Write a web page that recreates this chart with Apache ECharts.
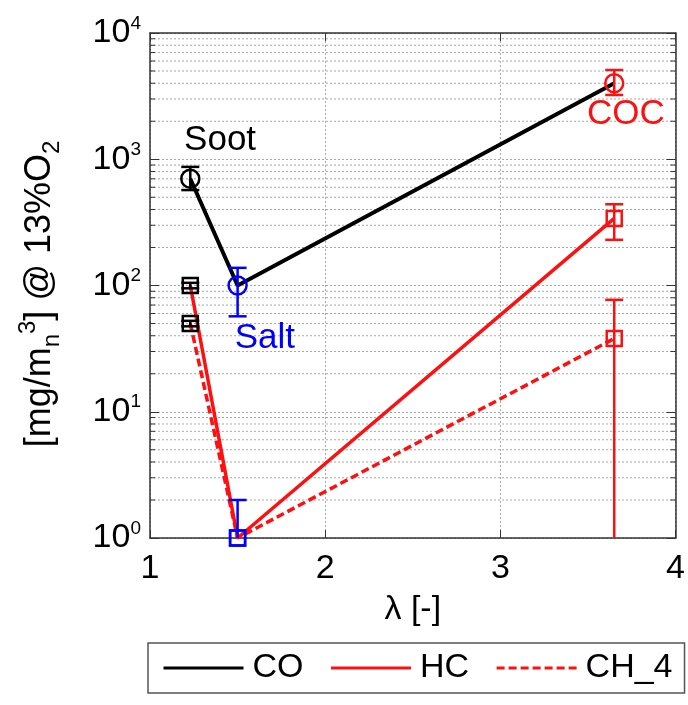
<!DOCTYPE html>
<html><head><meta charset="utf-8">
<script src="https://cdn.jsdelivr.net/npm/echarts@6/dist/echarts.min.js"></script>
<style>html,body{margin:0;padding:0;background:#fff}#c{width:688px;height:705px}</style>
</head><body><div id="c"></div>
<script>
// ---- data ----
const lambdaCO = [1.23, 1.5, 3.65];
const valuesCO = [700, 100, 4000];
const errLowCO = [570, 57, 3230];
const errHighCO = [870, 138, 5090];

const lambdaHC = [1.23, 1.5, 3.65];
const valuesHC = [100, 1, 340];
const errLowHC = [95, 0.5, 230];
const errHighHC = [105, 2, 440];

const lambdaCH4 = [1.23, 1.5, 3.65];
const valuesCH4 = [50, 1, 38];
const errLowCH4 = [47.5, null, 0.1];
const errHighCH4 = [52.5, null, 77];

const pointColors = ['#000000', '#0000ff', '#ff1010'];
const seriesNames = ['CO', 'HC', 'CH_4'];
const xTicks = [1, 2, 3, 4];
const yTickExponents = [0, 1, 2, 3, 4];
const minorMultipliers = [2, 3, 4, 5, 6, 7, 8, 9];
const annotationTexts = ['Soot', 'Salt', 'COC'];
const annotationX = [1.40, 1.656, 3.716];
const annotationY = [1420, 38.4, 2260];
const annotationColors = ['#000000', '#0000ff', '#ff1010'];

// ---- build ----
const FONT = 'Liberation Sans, Arial, Helvetica, sans-serif';
const RED = '#ff1010';
const GRIDC = '#a8a8a8';

function pairs(xs, ys) { return xs.map((x, i) => [x, ys[i]]); }
function errs(xs, lo, hi) {
  const out = [];
  xs.forEach((x, i) => { if (lo[i] != null) out.push([x, lo[i], hi[i], i]); });
  return out;
}
function markers(xs, ys) {
  return xs.map((x, i) => ({ value: [x, ys[i]], itemStyle: { borderColor: pointColors[i] } }));
}
const minorVals = [];
yTickExponents.slice(0, -1).forEach(e => minorMultipliers.forEach(m => minorVals.push([1, m * Math.pow(10, e)])));

const xMin = xTicks[0], xMax = xTicks[xTicks.length - 1];
const yMin = Math.pow(10, yTickExponents[0]), yMax = Math.pow(10, yTickExponents[yTickExponents.length - 1]);

function errRender(params, api) {
  const x = api.value(0), lo = api.value(1), hi = api.value(2), ci = api.value(3);
  const p1 = api.coord([x, hi]), p2 = api.coord([x, lo]);
  const hw = 9;
  const style = { stroke: pointColors[ci], lineWidth: 2.5 };
  return { type: 'group', children: [
    { type: 'line', shape: { x1: p1[0], y1: p1[1], x2: p2[0], y2: p2[1] }, style },
    { type: 'line', shape: { x1: p1[0] - hw, y1: p1[1], x2: p1[0] + hw, y2: p1[1] }, style },
    { type: 'line', shape: { x1: p2[0] - hw, y1: p2[1], x2: p2[0] + hw, y2: p2[1] }, style }
  ]};
}
function minorRender(params, api) {
  const v = api.value(1);
  const a = api.coord([xMin, v]), b = api.coord([xMax, v]);
  return { type: 'group', children: [
    { type: 'line', shape: { x1: a[0], y1: a[1], x2: b[0], y2: b[1] }, style: { stroke: GRIDC, lineWidth: 1, lineDash: [2, 2] } },
    { type: 'line', shape: { x1: a[0], y1: a[1], x2: a[0] + 5, y2: a[1] }, style: { stroke: '#333', lineWidth: 1 } },
    { type: 'line', shape: { x1: b[0] - 5, y1: b[1], x2: b[0], y2: b[1] }, style: { stroke: '#333', lineWidth: 1 } }
  ]};
}

const chart = echarts.init(document.getElementById('c'));
const axisLineStyle = { color: '#333', width: 1.5 };
chart.setOption({
  backgroundColor: '#fff',
  animation: false,
  grid: { left: 150, right: 8, top: 33, bottom: 167 },
  xAxis: [
    { type: 'value', min: xMin, max: xMax, interval: 1,
      axisLine: { show: true, lineStyle: axisLineStyle },
      axisTick: { inside: true, length: 8, lineStyle: { color: '#333' } },
      axisLabel: { fontSize: 34, fontFamily: FONT, color: '#000', margin: 14 },
      splitLine: { show: true, lineStyle: { color: GRIDC, type: [2, 2] } },
      name: 'λ [-]', nameLocation: 'middle', nameGap: 55,
      nameTextStyle: { fontSize: 34, fontFamily: FONT, color: '#000' } },
    { type: 'value', position: 'top', min: xMin, max: xMax, interval: 1,
      axisLine: { show: true, onZero: false, lineStyle: axisLineStyle },
      axisTick: { inside: true, length: 8, lineStyle: { color: '#333' } },
      axisLabel: { show: false }, splitLine: { show: false } }
  ],
  yAxis: [
    { type: 'log', logBase: 10, min: yMin, max: yMax,
      axisLine: { show: true, lineStyle: axisLineStyle },
      axisTick: { inside: true, length: 9, lineStyle: { color: '#333' } },
      splitLine: { show: true, lineStyle: { color: GRIDC, type: [2, 2] } },
      axisLabel: {
        margin: 9,
        formatter: v => '{b|10}{s|' + Math.round(Math.log10(v)) + '}',
        rich: {
          b: { fontSize: 34, fontFamily: FONT, color: '#000', lineHeight: 38 },
          s: { fontSize: 19, fontFamily: FONT, color: '#000', verticalAlign: 'top', lineHeight: 19 }
        }
      } },
    { type: 'log', logBase: 10, min: yMin, max: yMax, position: 'right',
      axisLine: { show: true, onZero: false, lineStyle: axisLineStyle },
      axisTick: { inside: true, length: 9, lineStyle: { color: '#333' } },
      axisLabel: { show: false }, splitLine: { show: false } }
  ],
  legend: {
    data: seriesNames, left: 148, top: 643, orient: 'horizontal',
    padding: [8, 12, 8, 14], itemGap: 26, itemWidth: 80, itemHeight: 14,
    borderColor: '#555', borderWidth: 1.5, backgroundColor: '#fff',
    itemStyle: { opacity: 0 },
    lineStyle: { width: 3 },
    textStyle: { fontSize: 34, fontFamily: FONT, color: '#000', padding: [0, 0, 0, 4] }
  },
  graphic: [{
    type: 'text', x: 40, y: 294, rotation: Math.PI / 2,
    style: {
      text: '{m|[mg/m}{sb|n}{sp|3}{m|] @ 13%O}{sb|2}',
      align: 'center', verticalAlign: 'middle',
      rich: {
        m: { fontSize: 36, fontFamily: FONT, fill: '#000', lineHeight: 48 },
        sb: { fontSize: 24, fontFamily: FONT, fill: '#000', verticalAlign: 'bottom', lineHeight: 24 },
        sp: { fontSize: 24, fontFamily: FONT, fill: '#000', verticalAlign: 'top', lineHeight: 24 }
      }
    }
  }],
  series: [
    { type: 'custom', name: 'minorGrid', data: minorVals, renderItem: minorRender, silent: true, z: 0 },
    { type: 'line', name: 'CO', data: pairs(lambdaCO, valuesCO), symbol: 'none', z: 3,
      lineStyle: { color: '#000', width: 4 }, itemStyle: { color: '#000' } },
    { type: 'line', name: 'HC', data: pairs(lambdaHC, valuesHC), symbol: 'none', z: 3,
      lineStyle: { color: RED, width: 3.5 }, itemStyle: { color: RED } },
    { type: 'line', name: 'CH_4', data: pairs(lambdaCH4, valuesCH4), symbol: 'none', z: 3,
      lineStyle: { color: RED, width: 3.5, type: [8, 4] }, itemStyle: { color: RED } },
    { type: 'custom', name: 'errCO', data: errs(lambdaCO, errLowCO, errHighCO), renderItem: errRender, clip: true, z: 4 },
    { type: 'custom', name: 'errHC', data: errs(lambdaHC, errLowHC, errHighHC), renderItem: errRender, clip: true, z: 4 },
    { type: 'custom', name: 'errCH4', data: errs(lambdaCH4, errLowCH4, errHighCH4), renderItem: errRender, clip: true, z: 4 },
    { type: 'scatter', name: 'mCO', data: markers(lambdaCO, valuesCO), symbol: 'circle', symbolSize: 18, z: 5,
      itemStyle: { color: 'rgba(0,0,0,0)', borderWidth: 2.5, opacity: 1 } },
    { type: 'scatter', name: 'mHC', data: markers(lambdaHC, valuesHC), symbol: 'rect', symbolSize: 15, z: 5,
      itemStyle: { color: 'rgba(0,0,0,0)', borderWidth: 2.5, opacity: 1 } },
    { type: 'scatter', name: 'mCH4', data: markers(lambdaCH4, valuesCH4), symbol: 'rect', symbolSize: 15, z: 5,
      itemStyle: { color: 'rgba(0,0,0,0)', borderWidth: 2.5, opacity: 1 } },
    { type: 'scatter', name: 'annot', symbolSize: 1, z: 6, silent: true,
      itemStyle: { color: 'rgba(0,0,0,0)', opacity: 1 },
      data: annotationTexts.map((t, i) => ({
        value: [annotationX[i], annotationY[i]], name: t,
        label: { show: true, position: 'inside', formatter: t, fontSize: 35, fontFamily: FONT, color: annotationColors[i], opacity: 1 }
      })) }
  ]
});
</script></body></html>
